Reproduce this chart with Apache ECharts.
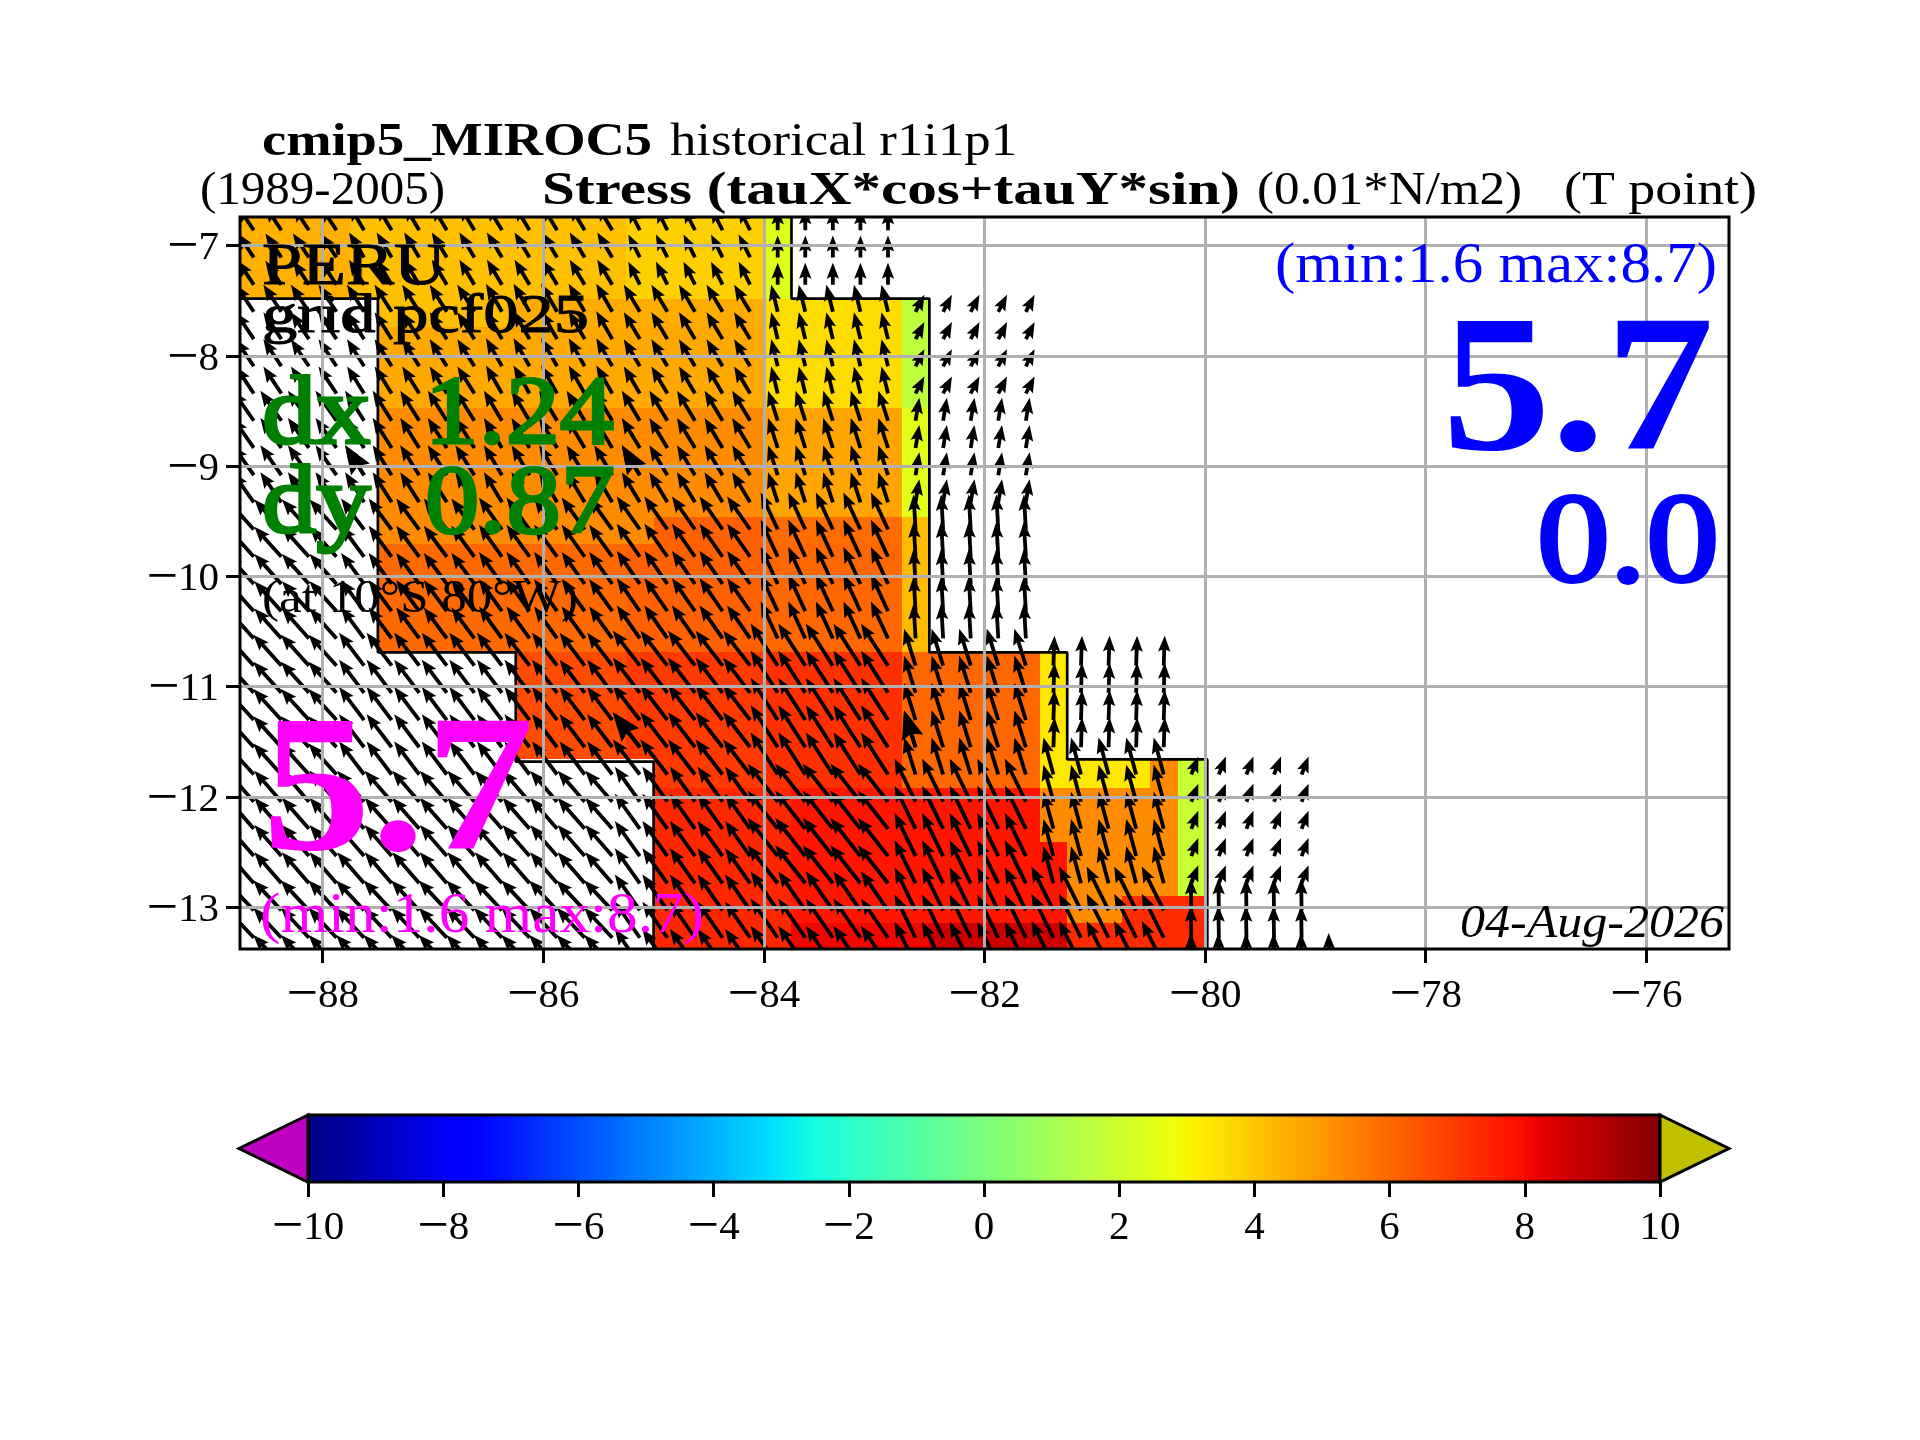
<!DOCTYPE html>
<html>
<head>
<meta charset="utf-8">
<style>html,body{margin:0;padding:0;background:#fff}#c{width:1920px;height:1440px}</style>
<script src="https://cdn.jsdelivr.net/npm/echarts@6/dist/echarts.min.js"></script>
</head>
<body>
<div id="c"></div>
<script>
// ---------- axis ticks ----------
const lonTicks = [-88, -86, -84, -82, -80, -78, -76];
const latTicks = [-13, -12, -11, -10, -9, -8, -7];
const barTicks = [-10, -8, -6, -4, -2, 0, 2, 4, 6, 8, 10];

// ---------- colormap: position on the bar (-10..10 -> 0..1) and colour ----------
const jetPos = [0, .11, .125, .34, .35, .375, .64, .65, .66, .89, .91, 1];
const jetRGB = [[0,0,128],[0,0,255],[0,0,255],[0,219,255],[0,230,247],[21,255,226],
                [238,255,12],[247,246,0],[255,236,0],[255,19,0],[232,0,0],[128,0,0]];
const underColor = '#c000c0';
const overColor = '#c0c000';

// ---------- stress field: bands of latitude, each with its own longitude breaks and values ----------
const bandLat = [-6.74,-7.48,-7.74,-8.47,-9.46,-9.71,-10.69,-11.66,-11.92,-12.41,-12.90,-13.14,-13.38];
const bandLons = [
  [-88.75,-87.75,-85.25,-84,-83.75],
  [-87.5,-86.25,-84,-82.75,-82.5],
  [-87.5,-84,-82.75,-82.5],
  [-87.5,-84,-82.75,-82.5],
  [-87.5,-85,-84,-82.75,-82.5],
  [-87.5,-85.25,-84,-82.75,-82.5],
  [-86.25,-85.25,-84,-82.75,-81.5,-81.25],
  [-85,-84,-82.75,-81.5,-80.5,-80.25,-79.98],
  [-85,-83.75,-81.5,-80.25,-79.98],
  [-85,-83.75,-81.25,-80.25,-79.98],
  [-85,-83.75,-81.25,-80.75,-79.98],
  [-85,-83.75,-82.5,-81.25,-79.98]
];
const bandVals = [
  [4.48,4.13,3.8,2.44],
  [4.15,4.55,3.53,1.6],
  [4.65,3.53,1.6],
  [5.24,4.72,2.5],
  [5.24,6.15,5.9,4.24],
  [5.95,6.15,6.0,4.24],
  [6.6,6.98,7.18,6.0,3.3],
  [6.98,7.18,6.0,3.3,5.3,1.86],
  [7.37,7.76,5.24,1.86],
  [7.37,7.76,5.24,1.86],
  [7.37,7.76,5.24,7.3],
  [7.37,8.06,8.68,7.3]
];

// ---------- coast / mask outlines ----------
const maskEastLon = [-83.75,-83.75,-82.5,-82.5,-81.25,-81.25,-79.98,-79.98];
const maskEastLat = [-6.74,-7.48,-7.48,-10.69,-10.69,-11.66,-11.66,-13.38];
const maskWestLon = [-88.75,-87.5,-87.5,-86.25,-86.25,-85,-85];
const maskWestLat = [-7.48,-7.48,-10.69,-10.69,-11.68,-11.68,-13.38];

// ---------- vectors ----------
const arrowLons = [-88.625,-88.375,-88.125,-87.875,-87.625,-87.375,-87.125,-86.875,-86.625,-86.375,
  -86.125,-85.875,-85.625,-85.375,-85.125,-84.875,-84.625,-84.375,-84.125,-83.875,-83.625,-83.375,
  -83.125,-82.875,-82.625,-82.375,-82.125,-81.875,-81.625,-81.375,-81.125,-80.875,-80.625,-80.375,
  -80.125,-79.875,-79.625,-79.375,-79.125];
const arrowLats = [-6.86,-7.107,-7.354,-7.6,-7.848,-8.094,-8.341,-8.588,-8.835,-9.082,-9.328,-9.575,
  -9.822,-10.069,-10.316,-10.563,-10.81,-11.056,-11.303,-11.55,-11.797,-12.044,-12.29,-12.537,
  -12.784,-13.03,-13.278,-13.525];
const vecLonEdges = [-88.75,-87.75,-86.5,-85.25,-84,-82.75,-81.5,-80.25,-79];
const vecLatEdges = [-6.6,-7.48,-8.47,-9.46,-10.69,-11.66,-11.92,-12.9,-13.7];
const vecU = [
  [-2.46,-2.31,-2.31,-1.77,0,null,null,null],
  [-2.77,-2.62,-2.46,-2.46,-1.0,1.35,null,null],
  [-3.23,-2.92,-2.77,-2.77,-1.48,0.58,null,null],
  [-4.15,-3.54,-3.54,-3.54,-2.62,-0.31,null,null],
  [-4.31,-3.85,-3.85,-4.15,-4.15,-1.77,0.15,null],
  [-4.31,-3.85,-3.85,-4.15,-4.15,-1.77,-1.54,1.08],
  [-4.15,-4.15,-4.15,-3.85,-4.62,-3.23,-1.54,1.08],
  [-4.31,-4.31,-4.31,-3.85,-4.15,-3.23,-3.38,-0.08]
];
const vecV = [
  [3.69,3.85,3.85,3.54,3.38,null,null,null],
  [4.15,4.15,4.31,4.15,4.15,2.62,null,null],
  [4.62,4.62,4.62,4.62,4.62,3.54,null,null],
  [4.62,4.77,4.92,5.08,5.69,5.38,null,null],
  [4.77,5.08,5.08,5.38,6.46,5.69,4.62,null],
  [4.77,5.08,5.08,5.38,6.46,5.69,5.69,2.77],
  [4.77,4.77,4.77,5.38,5.85,6.62,5.69,2.77],
  [4.62,4.62,4.62,5.54,6.0,6.62,6.77,4.92]
];
// arrows that stand out: lon, lat, u, v
const heavyLon = [-87.625,-85.125,-85.125,-82.625];
const heavyLat = [-9.082,-9.082,-11.55,-11.55];
const heavyU = [-2.92,-2.77,-4.15,-1.77];
const heavyV = [4.62,4.62,5.38,5.69];
const loneLon = [-78.875];
const loneLat = [-13.525];
const loneU = [-0.08];
const loneV = [4.92];

// ---------- helpers ----------
function jetColor(v){
  const t = Math.max(0, Math.min(1, (v + 10) / 20));
  for (let i = 1; i < jetPos.length; i++) {
    if (t <= jetPos[i]) {
      const f = (t - jetPos[i-1]) / (jetPos[i] - jetPos[i-1]);
      const c = jetRGB[i].map((x, j) => Math.round(jetRGB[i-1][j] + (x - jetRGB[i-1][j]) * f));
      return 'rgb(' + c.join(',') + ')';
    }
  }
  return 'rgb(128,0,0)';
}
function findIndex(edges, v){
  const asc = edges[1] > edges[0];
  for (let i = 0; i < edges.length - 1; i++) {
    if (asc ? (v >= edges[i] && v < edges[i+1]) : (v <= edges[i] && v > edges[i+1])) return i;
  }
  return -1;
}
const cellData = [];
bandVals.forEach((vals, r) => vals.forEach((v, c) => {
  cellData.push([bandLons[r][c], bandLons[r][c+1], bandLat[r], bandLat[r+1], v]);
}));
const arrowData = [];
arrowLats.forEach(lat => arrowLons.forEach(lon => {
  const r = findIndex(vecLatEdges, lat), c = findIndex(vecLonEdges, lon);
  if (r < 0 || c < 0 || vecU[r][c] === null) return;
  arrowData.push([lon, lat, vecU[r][c], vecV[r][c], 1]);
}));
heavyLon.forEach((lon, i) => arrowData.push([lon, heavyLat[i], heavyU[i], heavyV[i], 1.8]));
loneLon.forEach((lon, i) => arrowData.push([lon, loneLat[i], loneU[i], loneV[i], 1]));

const SERIF = '"Liberation Serif"';
const measureCtx = document.createElement('canvas').getContext('2d');
function label(text, x0, x1, baseline, size, fill, weight, italic, thick){
  const font = (italic ? 'italic ' : '') + (weight ? weight + ' ' : '') + size + 'px ' + SERIF;
  measureCtx.font = font;
  const w = measureCtx.measureText(text).width;
  const style = { text: text, font: font, fill: fill, textAlign: 'left', textVerticalAlign: 'middle' };
  if (thick) { style.stroke = fill; style.lineWidth = thick; }
  return { type: 'text', x: x0, y: baseline - 0.28 * size, scaleX: (x1 - x0) / w, z: 100, silent: true, style: style };
}
const minMax = '(min:1.6 max:8.7)';
const texts = [
  label('cmip5_MIROC5', 262, 652, 156, 47, '#000', 'bold'),
  label('historical r1i1p1', 670, 1017, 156, 47, '#000'),
  label('(1989-2005)', 200, 445, 205, 47, '#000'),
  label('Stress (tauX*cos+tauY*sin)', 542, 1240, 205, 47, '#000', 'bold'),
  label('(0.01*N/m2)', 1257, 1522, 205, 47, '#000'),
  label('(T point)', 1564, 1757, 205, 47, '#000'),
  label('PERU', 262, 446, 285, 60, '#000', null, false, 1),
  label('grid pcf025', 262, 589, 333, 55, '#000', null, false, 1),
  label('dx  1.24', 262, 614, 445, 98, '#008000', null, false, 3),
  label('dy  0.87', 262, 615, 534, 98, '#008000', null, false, 3),
  label('(at 10\u00b0S 80\u00b0W)', 262, 578, 613, 47, '#000'),
  label('5.7', 262, 534, 853, 195, '#ff00ff', 'bold'),
  label(minMax, 260, 704, 933, 57, '#ff00ff'),
  label(minMax, 1275, 1717, 283, 57, '#0000ff'),
  label('5.7', 1442, 1714, 453, 195, '#0000ff', 'bold'),
  label('0.0', 1537, 1719, 583, 128, '#0000ff', null, false, 4),
  label('04-Aug-2026', 1460, 1724, 938, 47, '#000', null, true)
];

// Tick labels: a larger minus sign stands in for the wide TeX minus.
const minus = v => v < 0 ? '{m|\u2212}{d|' + Math.abs(v) + '}' : '{d|' + v + '}';
const tickRich = {
  m: { fontFamily: SERIF, fontSize: 56, lineHeight: 41, color: '#000' },
  d: { fontFamily: SERIF, fontSize: 41, lineHeight: 41, color: '#000' }
};
const GRID = '#b0b0b0';

const option = {
  animation: false,
  backgroundColor: '#fff',
  grid: [
    { left: 240, right: 191, top: 217, bottom: 491, show: true, z: 20,
      borderColor: '#000', borderWidth: 3, backgroundColor: 'transparent' },
    { left: 308, right: 260, top: 1115, bottom: 258 }
  ],
  xAxis: [
    { type: 'value', gridIndex: 0, min: -88.75, max: -75.25, z: 10,
      axisLine: { show: false },
      axisTick: { show: true, length: 14, customValues: lonTicks, lineStyle: { color: '#000', width: 3 } },
      axisLabel: { customValues: lonTicks, margin: 27, formatter: minus, rich: tickRich },
      splitLine: { show: true, lineStyle: { color: GRID, width: 3 } } },
    { type: 'value', gridIndex: 1, min: -10, max: 10, z: 10,
      axisLine: { show: false },
      axisTick: { show: true, length: 15, customValues: barTicks, lineStyle: { color: '#000', width: 3 } },
      axisLabel: { customValues: barTicks, margin: 26, formatter: minus, rich: tickRich },
      splitLine: { show: false } }
  ],
  yAxis: [
    { type: 'value', gridIndex: 0, min: -13.38, max: -6.74, z: 10,
      axisLine: { show: false },
      axisTick: { show: true, length: 14, customValues: latTicks, lineStyle: { color: '#000', width: 3 } },
      axisLabel: { customValues: latTicks, margin: 21, padding: [6, 0, 0, 0], formatter: minus, rich: tickRich },
      splitLine: { show: true, lineStyle: { color: GRID, width: 3 } } },
    { type: 'value', gridIndex: 1, min: 0, max: 1, show: false }
  ],
  series: [
    { type: 'custom', name: 'stress', xAxisIndex: 0, yAxisIndex: 0, z: 1, clip: true,
      encode: { x: [0, 1], y: [2, 3] }, data: cellData,
      renderItem: (p, api) => {
        const a = api.coord([api.value(0), api.value(2)]), b = api.coord([api.value(1), api.value(3)]);
        const x = Math.round(a[0]), y = Math.round(a[1]);
        return { type: 'rect', shape: { x, y, width: Math.round(b[0]) - x, height: Math.round(b[1]) - y },
                 style: { fill: jetColor(api.value(4)) } };
      } },
    { type: 'line', name: 'maskE', xAxisIndex: 0, yAxisIndex: 0, z: 2, symbol: 'none', silent: true,
      data: maskEastLon.map((x, i) => [x, maskEastLat[i]]), lineStyle: { color: '#000', width: 2.7 } },
    { type: 'line', name: 'maskW', xAxisIndex: 0, yAxisIndex: 0, z: 2, symbol: 'none', silent: true,
      data: maskWestLon.map((x, i) => [x, maskWestLat[i]]), lineStyle: { color: '#000', width: 2.7 } },
    { type: 'custom', name: 'wind', xAxisIndex: 0, yAxisIndex: 0, z: 3, clip: true,
      encode: { x: 0, y: 1 }, data: arrowData,
      renderItem: (p, api) => {
        const o = api.coord([api.value(0), api.value(1)]);
        const u = api.value(2), v = api.value(3), h = api.value(4);
        const mag = Math.hypot(u, v), ux = u / mag, uy = -v / mag, nx = -uy, ny = ux;
        const len = mag * 6.5, HL = 16 * h, NL = 14 * h, HW = 6.2 * h, SW = 1.9;
        const pt = (a, b) => [o[0] + ux * a + nx * b, o[1] + uy * a + ny * b];
        return { type: 'polygon', shape: { points: [
          pt(0, -SW), pt(len - NL, -SW), pt(len - HL, -HW), pt(len, 0),
          pt(len - HL, HW), pt(len - NL, SW), pt(0, SW) ] }, style: { fill: '#000' } };
      } },
    { type: 'custom', name: 'colorbar', xAxisIndex: 1, yAxisIndex: 1, z: 3, clip: false,
      encode: { x: 0, y: 1 }, data: [[-10, 0, 10, 1]],
      renderItem: (p, api) => {
        const a = api.coord([-10, 1]), b = api.coord([10, 0]), w = b[0] - a[0], hh = b[1] - a[1], my = a[1] + hh / 2;
        const tipL = api.coord([-11.02, 0.5])[0], tipR = api.coord([11.02, 0.5])[0];
        const line = { stroke: '#000', lineWidth: 3, lineJoin: 'miter' };
        return { type: 'group', children: [
          { type: 'rect', shape: { x: a[0], y: a[1], width: w, height: hh },
            style: { fill: new echarts.graphic.LinearGradient(0, 0, 1, 0,
              jetPos.map((o, i) => ({ offset: o, color: 'rgb(' + jetRGB[i].join(',') + ')' }))), ...line } },
          { type: 'polygon', shape: { points: [[a[0], a[1]], [tipL, my], [a[0], b[1]]] }, style: { fill: underColor, ...line } },
          { type: 'polygon', shape: { points: [[b[0], a[1]], [tipR, my], [b[0], b[1]]] }, style: { fill: overColor, ...line } }
        ] };
      } }
  ],
  graphic: { elements: texts }
};
echarts.init(document.getElementById('c'), null, { renderer: 'canvas' }).setOption(option);
</script>
</body>
</html>
